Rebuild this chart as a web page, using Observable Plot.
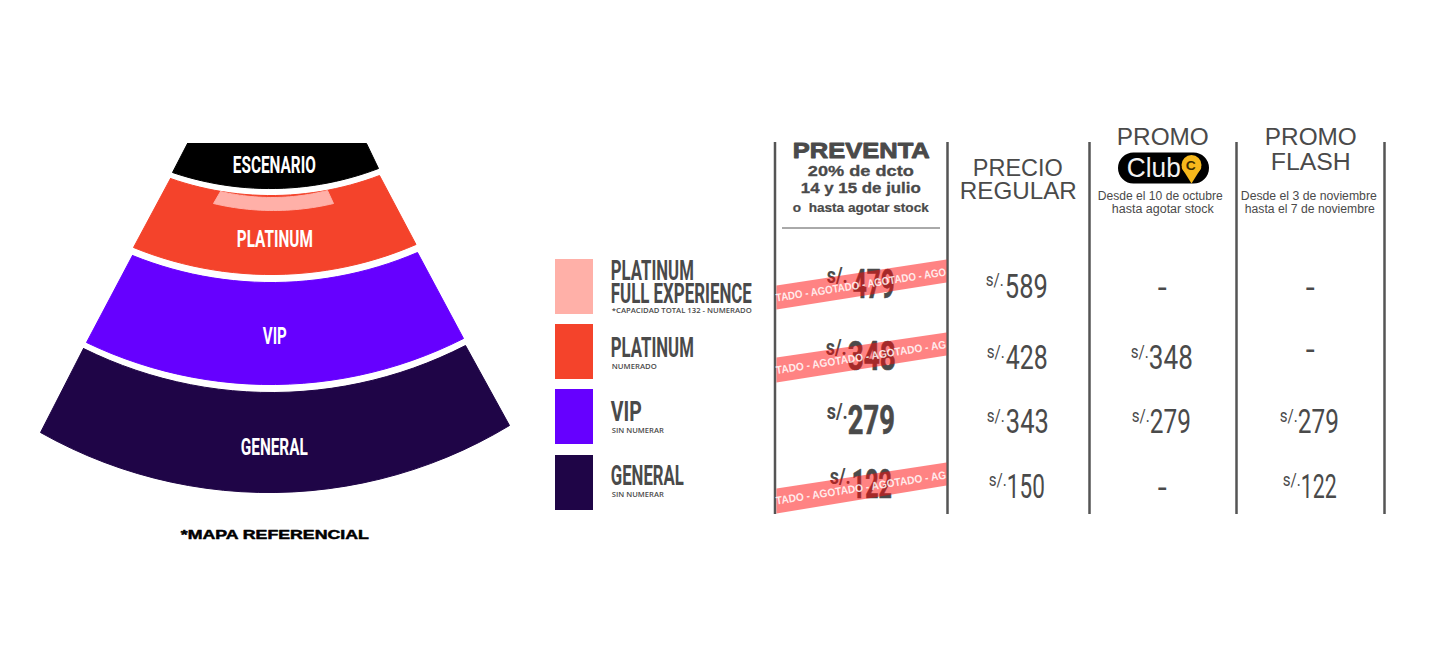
<!DOCTYPE html>
<html><head><meta charset="utf-8">
<style>html,body{margin:0;padding:0;background:#fff}svg{display:block}</style>
<script src="https://cdn.jsdelivr.net/npm/d3@7"></script>
<script src="https://cdn.jsdelivr.net/npm/@observablehq/plot@0.6"></script>
</head><body><div id="c"></div>
<script>
// ---- content
const zones = ["PLATINUM FULL EXPERIENCE","PLATINUM","VIP","GENERAL"];
const zoneNotes = ["*CAPACIDAD TOTAL 132 - NUMERADO","NUMERADO","SIN NUMERAR","SIN NUMERAR"];
const zoneColors = ["#ffb0a8","#f4432b","#6600ff","#1f0547"];
const preventa = [479,348,279,122];
const agotado = [true,true,false,true];
const regular = [589,428,343,150];
const club = [null,348,279,null];
const flash = [null,null,279,122];
const currency = "s/.";
const ink = "#4a4a4a";

// ---- layout (page units)
const swatchTop = [259,324,389,455], swatchBottom = [314,379,444,510];
const columnRules = [774.5,947,1089,1236,1384];
const sectors = [
  {c:"#000000", top:[[187,143],[366,143]], right:[378,168], bottomMid:[275,188], left:[172,172]},
  {c:zoneColors[1], tl:[170,178], tm:[275,195], tr:[379,175], br:[415.5,244], bm:[275,274], bl:[133,247]},
  {c:zoneColors[0], tl:[220,191], tm:[274,197], tr:[327,190], br:[333,203], bm:[274,210], bl:[213,203]},
  {c:zoneColors[2], tl:[132,255], tm:[275,282], tr:[417,252], br:[463,338], bm:[275,384], bl:[86,342]},
  {c:zoneColors[3], tl:[83,348], tm:[275,392], tr:[465,345], br:[509,425], bm:[275,492], bl:[40,432]}
];
function arc(L,M,R,n=28){
  const ax=L[0],ay=L[1],bx=M[0],by=M[1],cx=R[0],cy=R[1];
  const d=2*(ax*(by-cy)+bx*(cy-ay)+cx*(ay-by));
  const ux=((ax*ax+ay*ay)*(by-cy)+(bx*bx+by*by)*(cy-ay)+(cx*cx+cy*cy)*(ay-by))/d;
  const uy=((ax*ax+ay*ay)*(cx-bx)+(bx*bx+by*by)*(ax-cx)+(cx*cx+cy*cy)*(bx-ax))/d;
  const r=Math.hypot(ax-ux,ay-uy);
  const a0=Math.atan2(ay-uy,ax-ux),a1=Math.atan2(cy-uy,cx-ux);
  return d3.range(n+1).map(i=>[ux+r*Math.cos(a0+(a1-a0)*i/n),uy+r*Math.sin(a0+(a1-a0)*i/n)]);
}
function outline(s){
  if(s.top) return [...s.top,s.right,...arc(s.right,s.bottomMid,s.left)];
  return [...arc(s.tl,s.tm,s.tr),...arc(s.br,s.bm,s.bl)];
}
const poly=(pts,fill,o={})=>Plot.line([...pts,pts[0]],{x:d=>d[0],y:d=>d[1],fill,stroke:o.stroke??fill,strokeWidth:o.sw??1,fillOpacity:o.fo??1,strokeOpacity:o.fo??1,curve:"linear",strokeLinejoin:"round"});

// text row: [string,xLeft,xRight,baseline]
const nudgeX=-0.7;
function txt(rows,style){
  const dy=style.dy??-1;
  const data=rows.map(([t,x0,x1,y])=>({t,x0:x0+nudgeX,x1:x1+nudgeX,y:y+dy}));
  return Plot.text(data,{x:"x0",y:"y",text:"t",textAnchor:"start",lineAnchor:"bottom",
    fontSize:style.size,fontFamily:style.font,fontWeight:style.weight??400,fill:style.fill??ink,
    stroke:style.stroke??"none",strokeWidth:style.sw??0,
    render(index,scales,values,dims,ctx,next){
      const g=next(index,scales,values,dims,ctx);
      d3.select(g).selectAll("text").each(function(i){
        this.setAttribute("textLength",data[i].x1-data[i].x0);
        this.setAttribute("lengthAdjust","spacingAndGlyphs");
      });
      return g;
    }});
}
const narrow='"Liberation Sans Narrow","Roboto",sans-serif';
const sans='"Liberation Sans",sans-serif';
const roboto='Roboto,sans-serif';

// map labels
const mapLabels=txt([["ESCENARIO",233,316,173],["PLATINUM",237,313,247],["VIP",263,287,344],["GENERAL",241,308,455]],{size:24,font:narrow,weight:700,fill:"#fff"});
const mapNote=txt([["*MAPA REFERENCIAL",181,369,538]],{size:13,font:sans,weight:700,fill:"#000",stroke:"#000",sw:.5,dy:0});

// legend
const legendTitles=txt([["PLATINUM",611,694,280],["FULL EXPERIENCE",611,752,303],["PLATINUM",611,694,357],["VIP",611,642,421],["GENERAL",611,684,485]],{size:28,font:narrow,weight:700});
const legendNotes=txt([[zoneNotes[0],612,752,313],[zoneNotes[1],612,657,369],[zoneNotes[2],612,664,433],[zoneNotes[3],612,664,497]],{size:7.5,font:'"Open Sans",sans-serif',weight:600});

// headers
const h1=txt([["PREVENTA",793,930,158]],{size:22,font:sans,weight:700,stroke:ink,sw:.9});
const h2=txt([["20% de dcto",808,914,176.5],["14 y 15 de julio",801,921,193.5]],{size:15,font:sans,weight:700,stroke:ink,sw:.3});
const h3=txt([["o  hasta agotar stock",793,929,212.5]],{size:12,font:sans,weight:700,stroke:ink,sw:.2});
const h4=txt([["PRECIO",973,1063,176.5],["REGULAR",960,1077,199.5],["PROMO",1117,1209,145],["PROMO",1265,1357,145],["FLASH",1271,1351,170]],{size:24.5,font:sans});
const h5=txt([["Desde el 10 de octubre",1098,1223,200.5],["hasta agotar stock",1112,1214,213],["Desde el 3 de noviembre",1241,1377,200.5],["hasta el 7 de noviembre",1245,1375,213]],{size:12,font:sans});

// price positions: [currency left, digits left, digits right, digits baseline, currency baseline]
const prevPos=[[827,853,895,297,282],[826,848,896,369,354],[827,848,895,433,418],[830,852,892,497,483]];
const regPos=[[986,1005,1048,298,286],[987,1006,1048,369,358],[987,1006,1049,433,422],[989,1007,1045,498,486]];
const clubPos=[null,[1131,1149,1193,369,358],[1132,1150,1191,433,422],null];
const flashPos=[null,null,[1280,1298,1339,433,422],[1283,1301,1337,498,486]];
const dashes=[[1158,1167,298],[1158,1167,498],[1306,1315,298],[1306,1315,360]];

const priced=(vals,pos)=>vals.flatMap((v,i)=>v==null?[]:[[String(v),pos[i][1],pos[i][2],pos[i][3]]]);
const curr=(vals,pos,w)=>vals.flatMap((v,i)=>v==null?[]:[[currency,pos[i][0],pos[i][0]+w,pos[i][4]]]);

const prevDigits=txt(priced(preventa,prevPos),{size:41,font:narrow,weight:700,stroke:ink,sw:.7,dy:0});
const prevCurr=txt(curr(preventa,prevPos,21),{size:22,font:narrow,weight:700,dy:0});
const plainDigits=txt([...priced(regular,regPos),...priced(club,clubPos),...priced(flash,flashPos)],{size:33,font:roboto,dy:-.5});
const plainCurr=txt([...curr(regular,regPos,18),...curr(club,clubPos,18),...curr(flash,flashPos,18)],{size:18,font:roboto,dy:-1});
const dashMarks=txt(dashes.map(([a,b,y])=>["-",a,b,y]),{size:33,font:roboto,dy:0});

// sold-out ribbons: [left top, left bottom, right bottom, right top] by row
const ribbonEdges=[[285,309,282,259],[357,382,355,332],null,[488,513,485,462]];
const ribbonX=[776,946];
const ribbons=ribbonEdges.flatMap((e,i)=>!agotado[i]||!e?[]:[poly([[ribbonX[0],e[0]],[ribbonX[0],e[1]],[ribbonX[1],e[2]],[ribbonX[1],e[3]]],"#ff0808",{fo:.5,sw:0,stroke:"none"})]);
const ribbonText=["TADO - AGOTADO - AGOTADO - AGO","TADO - AGOTADO - AGOTADO - AG",null,"TADO - AGOTADO - AGOTADO - AG"];
const ribbonY=[288,360.5,null,491];
const ribbonRows=ribbonText.flatMap((t,i)=>t?[{t,y:ribbonY[i]}]:[]);
const ribbonLabels=Plot.text(ribbonRows,{x:()=>861,y:"y",text:"t",rotate:-8.7,textAnchor:"middle",lineAnchor:"bottom",fontSize:11,fontFamily:sans,fontWeight:700,fill:"#fff",fillOpacity:.85,
  render(index,scales,values,dims,ctx,next){
    const g=next(index,scales,values,dims,ctx);
    d3.select(g).selectAll("text").attr("textLength",172).attr("lengthAdjust","spacingAndGlyphs");
    return g;
  }});

// Club logo
const clubPill=Plot.line([[1133,167.5],[1193,167.5]],{x:d=>d[0],y:d=>d[1],stroke:"#000",strokeWidth:31,strokeLinecap:"round"});
const clubWord=txt([["Club",1127,1181,177]],{size:28,font:sans,fill:"#f2f2f2"});
const clubPin=poly([[1181,167],[1201,167],[1191,183]],"#f6b81c",{sw:0,stroke:"none"});
const clubDot=Plot.dot([[1191,164.5]],{x:d=>d[0],y:d=>d[1],r:10,fill:"#f6b81c"});
const clubC=txt([["C",1186,1196,170]],{size:13,font:sans,weight:700,fill:"#3a2a00"});

const plot=Plot.plot({
  width:1440,height:664,margin:0,
  x:{domain:[0,1440],range:[0,1440],axis:null},
  y:{domain:[0,664],range:[0,664],axis:null},
  style:{background:"#fff"},
  marks:[
    ...sectors.map(s=>poly(outline(s),s.c)),
    mapLabels,mapNote,
    Plot.rectY(zones,{x1:()=>555,x2:()=>593,y1:(d,i)=>swatchTop[i],y2:(d,i)=>swatchBottom[i],fill:(d,i)=>zoneColors[i]}),
    legendTitles,legendNotes,
    Plot.ruleX(columnRules,{x:d=>d,y1:142,y2:514,stroke:"#555",strokeWidth:2.5}),
    Plot.ruleY([227.5],{y:d=>d,x1:782,x2:940,stroke:"#555",strokeWidth:1}),
    h1,h2,h3,h4,h5,
    clubPill,clubWord,clubPin,clubDot,clubC,
    prevDigits,prevCurr,plainDigits,plainCurr,dashMarks,
    ...ribbons,ribbonLabels
  ]
});
document.getElementById("c").append(plot);
</script></body></html>
